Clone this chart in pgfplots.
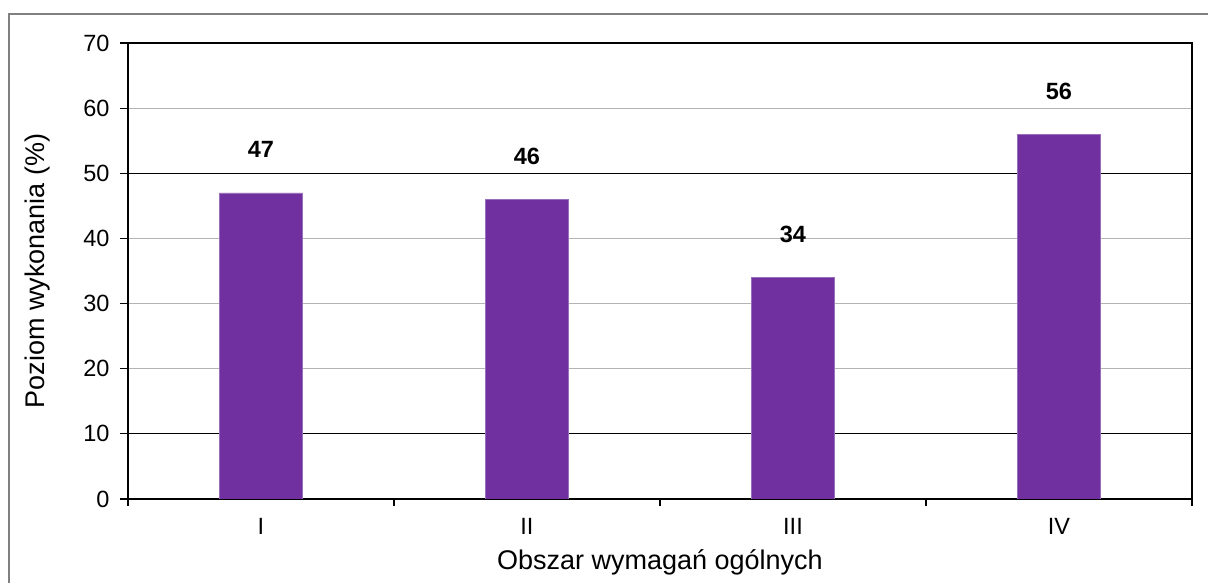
\documentclass[border=0pt]{standalone}
\usepackage{fontspec}
\setmainfont{Liberation Sans}
\usepackage{pgfplots}
\pgfplotsset{compat=1.18}
\definecolor{barpurple}{RGB}{112,48,160}
\definecolor{gridgray}{RGB}{180,180,180}
\definecolor{framegray}{RGB}{128,128,128}
\begin{document}
\begin{tikzpicture}[x=1pt,y=1pt]
\path[use as bounding box] (0,0) rectangle (1208,583);
\draw[framegray, line width=1.5pt] (9,0) -- (9,569) -- (1208,569);
\begin{axis}[
  at={(128pt,84pt)}, anchor=south west,
  scale only axis, width=1064pt, height=456pt,
  xmin=-0.5, xmax=3.5, ymin=0, ymax=70,
  xtick={0,1,2,3}, xticklabels={I,II,III,IV},
  minor xtick={-0.5,0.5,1.5,2.5,3.5},
  ytick={0,10,...,70},
  tick align=outside, xtick pos=bottom, ytick pos=left,
  major tick length=8pt, minor tick length=7pt,
  major x tick style={draw=none},
  tick style={black, line width=1.2pt},
  axis line style={black, line width=1.2pt},
  ymajorgrids, major grid style={gridgray, line width=1pt},
  extra y ticks={10,50}, extra y tick labels={},
  extra y tick style={major grid style={black, line width=1pt}},
  /pgf/number format/assume math mode=true,
  tick label style={font=\fontsize{23.5}{28}\selectfont},
  yticklabel style={xshift=-7pt},
  xticklabel style={yshift=-8pt},
  label style={font=\fontsize{27}{32}\selectfont},
  xlabel={Obszar wymagań ogólnych},
  ylabel={Poziom wykonania (\%)},
  xlabel style={at={(axis description cs:0.5,-0.138)}, anchor=center},
  ylabel style={at={(axis description cs:-0.0855,0.5)}, anchor=center},
  ybar, bar width=83pt,
  nodes near coords,
  every node near coord/.append style={font=\bfseries\fontsize{23.5}{28}\selectfont, anchor=base, inner sep=0pt, yshift=35pt},
]
\addplot[fill=barpurple, draw=barpurple!70!white, line width=0.5pt] coordinates {(0,47) (1,46) (2,34) (3,56)};
\end{axis}
\end{tikzpicture}
\end{document}
